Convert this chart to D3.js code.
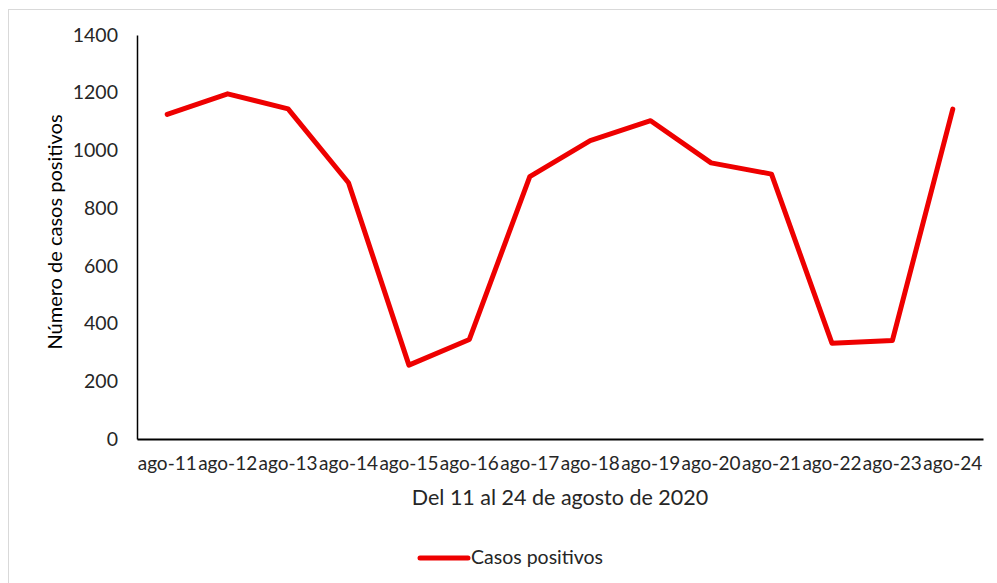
<!DOCTYPE html>
<html><head><meta charset="utf-8">
<script src="https://cdn.jsdelivr.net/npm/d3@7"></script>
<style>
html,body{margin:0;padding:0;background:#fff;}
svg{display:block;font-family:Lato,"Liberation Sans",sans-serif;}
</style></head>
<body><svg id="c" width="997" height="583"></svg>
<script>
const categories = ["ago-11","ago-12","ago-13","ago-14","ago-15","ago-16","ago-17","ago-18","ago-19","ago-20","ago-21","ago-22","ago-23","ago-24"];
const casosPositivos = [1125,1196,1144,888,256,345,909,1034,1103,957,918,332,341,1143];
const yTicks = [0,200,400,600,800,1000,1200,1400];
const seriesName = "Casos positivos";
const xTitle = "Del 11 al 24 de agosto de 2020";
const yTitle = "Número de casos positivos";

(function(){
const svg = d3.select("#c");
// chart frame
svg.append("rect").attr("x",8.5).attr("y",9.5).attr("width",1000).attr("height",600)
  .attr("fill","#fff").attr("stroke","#d9d9d9").attr("stroke-width",1);

const pL=137, pR=983, pT=35, pB=439;
const x = d3.scaleBand().domain(categories).range([pL,pR]).padding(0);
const y = d3.scaleLinear().domain([0,1400]).range([pB,pT]);

// y axis
const ya = svg.append("g").attr("transform",`translate(${pL},0)`)
  .call(d3.axisLeft(y).tickValues(yTicks).tickFormat(d3.format("d")).tickSize(0).tickPadding(19));
ya.select(".domain").attr("stroke","#000").attr("stroke-width",1.5);
ya.selectAll("text").attr("font-size",19.5).attr("fill","#262626").attr("font-family","Lato");

// x axis
const xa = svg.append("g").attr("transform",`translate(0,${pB})`)
  .call(d3.axisBottom(x).tickSize(0).tickPadding(18));
xa.select(".domain").attr("stroke","#000").attr("stroke-width",2);
xa.selectAll("text").attr("font-size",19).attr("fill","#262626").attr("font-family","Lato");

// line
const line = d3.line().x((d,i)=>x(categories[i])+x.bandwidth()/2).y(d=>y(d));
svg.append("path").datum(casosPositivos).attr("d",line)
  .attr("fill","none").attr("stroke","#ee0000").attr("stroke-width",5)
  .attr("stroke-linejoin","round").attr("stroke-linecap","round");

// titles
svg.append("text").attr("x",560).attr("y",505).attr("text-anchor","middle")
  .attr("font-size",21.5).attr("fill","#262626").text(xTitle);
svg.append("text").attr("transform","translate(62,232) rotate(-90)").attr("text-anchor","middle")
  .attr("font-size",20).attr("fill","#000").text(yTitle);

// legend
svg.append("line").attr("x1",420).attr("x2",468).attr("y1",558).attr("y2",558)
  .attr("stroke","#ee0000").attr("stroke-width",5).attr("stroke-linecap","round");
svg.append("text").attr("x",471).attr("y",564).attr("font-size",19.5).attr("fill","#262626").text(seriesName);
})();
</script></body></html>
